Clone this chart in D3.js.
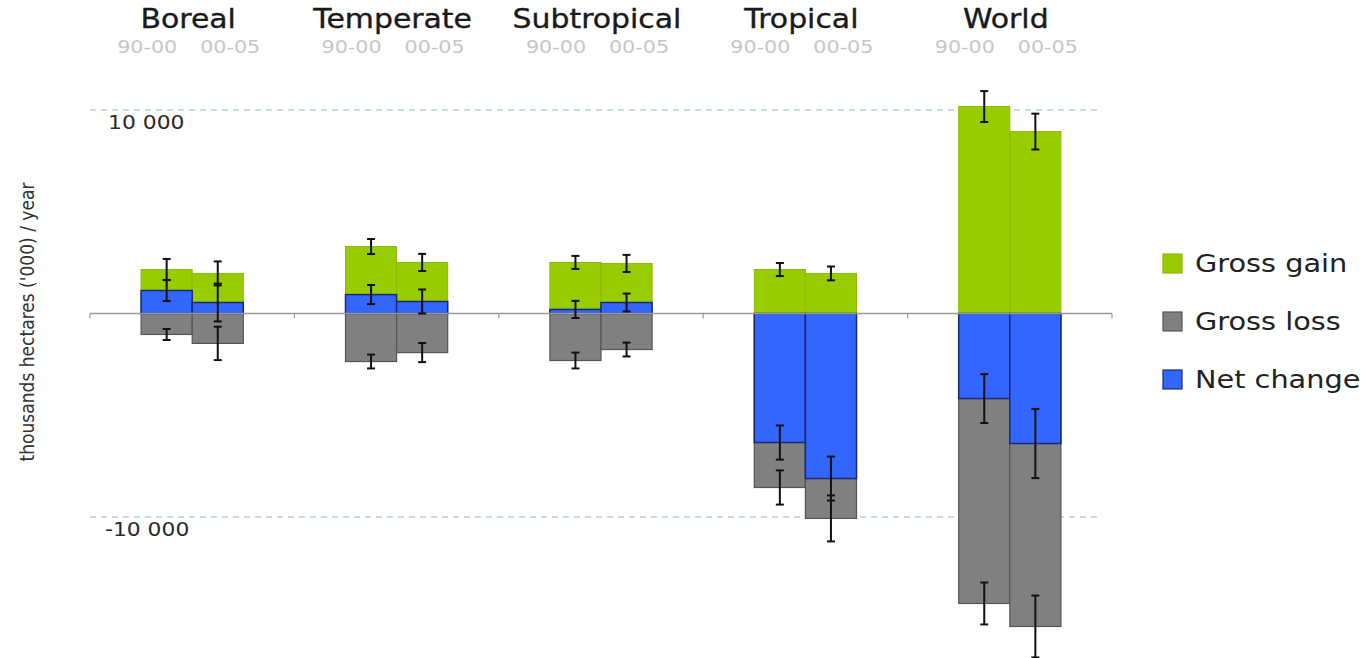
<!DOCTYPE html>
<html>
<head>
<meta charset="utf-8">
<script src="https://cdn.jsdelivr.net/npm/d3@7"></script>
<style>
  html, body { margin: 0; padding: 0; background: #ffffff; }
  svg { display: block; }
</style>
</head>
<body>
<svg id="chart" width="1372" height="658"></svg>
<script>
// Forest area change by climatic domain, thousands of hectares per year
const categories = ["Boreal", "Temperate", "Subtropical", "Tropical", "World"];
const periods = ["90-00", "00-05"];

// values listed category by category, 90-00 then 00-05
const grossGain = [2160, 1970, 3290, 2510, 2510, 2460, 2160, 1970, 10170, 8940];
const grossLoss = [-1030, -1470, -2360, -1920, -2310, -1770, -8550, -10070, -14250, -15380];
const netChange = [1130, 540, 930, 590, 200, 540, -6340, -8110, -4180, -6390];

// half-widths of the uncertainty bars
const gainError = [520, 590, 370, 420, 320, 420, 320, 340, 760, 880];
const lossError = [270, 820, 340, 470, 390, 340, 840, 1130, 1030, 1520];
const netError = [520, 930, 470, 590, 420, 440, 840, 1080, 1200, 1700];

const gridValues = [10000, -10000];
const seriesNames = ["Gross gain", "Gross loss", "Net change"];

const colors = {
  gain: "#99cc00", gainStroke: "#8ab800",
  loss: "#808080", lossStroke: "#555555",
  net: "#3366ff", netStroke: "#1a2a70"
};
const stretch = 1.15;

const svg = d3.select("#chart");

const x = d3.scaleBand().domain(categories).range([90, 1112]).padding(0);
const xp = d3.scaleBand().domain(periods)
  .range([x.bandwidth() * 0.25, x.bandwidth() * 0.75]).padding(0);
const y = d3.scaleLinear().domain([-10000, 10000]).range([517, 110]);

const fmt = d3.formatLocale({
  decimal: ".", thousands: " ", grouping: [3], currency: ["", ""], minus: "-"
}).format(",d");

function stretchedText(g, px, py, str) {
  return g.append("text")
    .attr("transform", `translate(${px},${py}) scale(${stretch},1)`)
    .text(str);
}

// rows: one per category and period
const rows = [];
categories.forEach((c, i) => {
  periods.forEach((p, j) => {
    const k = i * periods.length + j;
    rows.push({
      cat: c, per: p,
      gain: grossGain[k], loss: grossLoss[k], net: netChange[k],
      gErr: gainError[k], lErr: lossError[k], nErr: netError[k]
    });
  });
});
const bx = d => x(d.cat) + xp(d.per);
const bw = xp.bandwidth();

// dashed reference lines
svg.append("g").selectAll("line").data(gridValues).join("line")
  .attr("x1", 90).attr("x2", 1100)
  .attr("y1", d => y(d)).attr("y2", d => y(d))
  .attr("stroke", "#bccde6").attr("stroke-width", 1.5)
  .attr("stroke-dasharray", "6,5");

// reference line labels
const gl = svg.append("g")
  .attr("font-family", "DejaVu Sans, Verdana, sans-serif")
  .attr("font-size", 19).attr("fill", "#2a2a2a");
gridValues.forEach(v => {
  stretchedText(gl, v < 0 ? 105 : 108, y(v) + 19, fmt(v));
});

// bars: gain and loss first, net change on top
const bars = svg.append("g");
bars.selectAll("rect.gain").data(rows).join("rect").attr("class", "gain")
  .attr("x", bx).attr("width", bw)
  .attr("y", d => y(d.gain)).attr("height", d => y(0) - y(d.gain))
  .attr("fill", colors.gain).attr("stroke", colors.gainStroke).attr("stroke-width", 1);
bars.selectAll("rect.loss").data(rows).join("rect").attr("class", "loss")
  .attr("x", bx).attr("width", bw)
  .attr("y", y(0)).attr("height", d => y(d.loss) - y(0))
  .attr("fill", colors.loss).attr("stroke", colors.lossStroke).attr("stroke-width", 1.2);
bars.selectAll("rect.net").data(rows).join("rect").attr("class", "net")
  .attr("x", bx).attr("width", bw)
  .attr("y", d => Math.min(y(d.net), y(0)))
  .attr("height", d => Math.abs(y(d.net) - y(0)))
  .attr("fill", colors.net).attr("stroke", colors.netStroke).attr("stroke-width", 1.5);

// zero axis with category separators
const axisG = svg.append("g");
axisG.append("line")
  .attr("x1", 90).attr("x2", 1112).attr("y1", y(0)).attr("y2", y(0))
  .attr("stroke", "#9a9a9a").attr("stroke-width", 1.6);
const sepTicks = categories.map(c => x(c)).concat([x.range()[1]]);
axisG.selectAll("line.tick").data(sepTicks).join("line").attr("class", "tick")
  .attr("x1", d => d).attr("x2", d => d)
  .attr("y1", y(0)).attr("y2", y(0) + 5)
  .attr("stroke", "#9a9a9a").attr("stroke-width", 1.2);

// uncertainty bars
const errs = [];
rows.forEach(d => {
  errs.push({ cx: bx(d) + bw / 2, v: d.gain, e: d.gErr });
  errs.push({ cx: bx(d) + bw / 2, v: d.loss, e: d.lErr });
  errs.push({ cx: bx(d) + bw / 2, v: d.net, e: d.nErr });
});
const eg = svg.append("g").attr("stroke", "#111").attr("stroke-width", 2);
errs.forEach(d => {
  const y1 = y(d.v + d.e), y2 = y(d.v - d.e);
  eg.append("line").attr("x1", d.cx).attr("x2", d.cx).attr("y1", y1).attr("y2", y2);
  eg.append("line").attr("x1", d.cx - 4).attr("x2", d.cx + 4).attr("y1", y1).attr("y2", y1);
  eg.append("line").attr("x1", d.cx - 4).attr("x2", d.cx + 4).attr("y1", y2).attr("y2", y2);
});

// category headers and period labels
const head = svg.append("g").attr("font-family", "DejaVu Sans, Verdana, sans-serif")
  .attr("text-anchor", "middle");
categories.forEach(c => {
  const cx = x(c) + x.bandwidth() / 2;
  stretchedText(head, cx - 4, 28, c)
    .attr("font-size", 26).attr("fill", "#1a1a1a")
    .attr("stroke", "#1a1a1a").attr("stroke-width", 0.35);
  periods.forEach((p, j) => {
    stretchedText(head, cx + (j === 0 ? -45 : 38), 53, p)
      .attr("font-size", 18).attr("fill", "#c6c6c6");
  });
});

// y axis title
svg.append("text")
  .attr("transform", "translate(34,322) rotate(-90)")
  .attr("text-anchor", "middle")
  .attr("font-family", "Liberation Sans Narrow, DejaVu Sans Condensed, sans-serif")
  .attr("font-size", 19).attr("fill", "#333")
  .text("thousands hectares ('000) / year");

// legend
const legendColors = [
  [colors.gain, colors.gainStroke],
  [colors.loss, colors.lossStroke],
  [colors.net, colors.netStroke]
];
const lg = svg.append("g").attr("font-family", "DejaVu Sans, Verdana, sans-serif")
  .attr("font-size", 25).attr("fill", "#222");
seriesNames.forEach((n, i) => {
  const ly = 263 + i * 58;
  lg.append("rect").attr("x", 1163).attr("y", ly - 9).attr("width", 19).attr("height", 19)
    .attr("fill", legendColors[i][0]).attr("stroke", legendColors[i][1]).attr("stroke-width", 1.2);
  stretchedText(lg, 1195, ly + 9, n);
});
</script>
</body>
</html>
